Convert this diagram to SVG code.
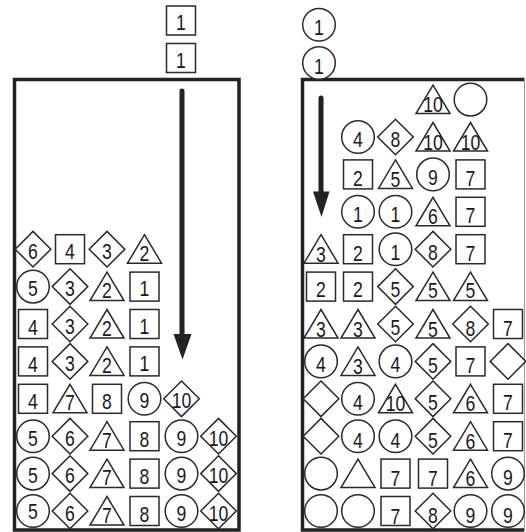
<svg xmlns="http://www.w3.org/2000/svg" xmlns:xlink="http://www.w3.org/1999/xlink" width="526" height="532" viewBox="0 0 526 532">
<style>
.s{fill:#fff;stroke:#2a2a2a;stroke-width:1.5}
text{font-family:"Liberation Sans",Arial,sans-serif;font-size:22px;fill:#1a1a1a;text-anchor:middle;transform:translate(0px,1.5px) scale(0.8,1)}
.box{fill:none;stroke:#222;stroke-width:3.5}
</style>
<defs>
<rect id="sq" class="s" x="-14.5" y="-14.5" width="29" height="29"/>
<circle id="ci" class="s" r="16.3"/>
<polygon id="di" class="s" points="0,-17.8 17.8,0 0,17.8 -17.8,0"/>
<polygon id="tr" class="s" points="0,-14.5 17,14 -17,14"/>
</defs>
<rect width="526" height="532" fill="#fff"/>
<g id="containers">
<path class="box" d="M14.5,79.5 H239 V530 H14.5 Z"/>
<path class="box" d="M524,79.5 H302.5 V530 H524"/>
<line x1="524.5" y1="78" x2="524.5" y2="531" stroke="#999" stroke-width="1"/>
</g>
<g id="connectors">
<path d="M182,91 V336" stroke="#222" stroke-width="5" stroke-linecap="round" fill="none"/>
<polygon points="173.5,334 191.5,334 182.5,359.5" fill="#222"/>
<path d="M321,98 V193" stroke="#222" stroke-width="5" stroke-linecap="round" fill="none"/>
<polygon points="313,191.5 329.5,191.5 321.5,217" fill="#222"/>
</g>
<g id="incoming">
<g id="inL1" transform="translate(181,20.5)"><use href="#sq"/><text y="8">1</text></g>
<g id="inL2" transform="translate(181,58)"><use href="#sq"/><text y="8">1</text></g>
<g id="inR1" transform="translate(319,24.7)"><use href="#ci"/><text y="9">1</text></g>
<g id="inR2" transform="translate(319,63)"><use href="#ci"/><text y="9">1</text></g>
</g>
<g id="left">
<g id="L4-1" transform="translate(33,249.2)"><use href="#di"/><text y="8">6</text></g>
<g id="L4-2" transform="translate(70,249.2)"><use href="#sq"/><text y="8">4</text></g>
<g id="L4-3" transform="translate(107,249.2)"><use href="#di"/><text y="8">3</text></g>
<g id="L4-4" transform="translate(144.5,249.2)"><use href="#tr"/><text y="10">2</text></g>
<g id="L5-1" transform="translate(33,286.6)"><use href="#ci"/><text y="8">5</text></g>
<g id="L5-2" transform="translate(70,286.6)"><use href="#di"/><text y="8">3</text></g>
<g id="L5-3" transform="translate(107,286.6)"><use href="#tr"/><text y="10">2</text></g>
<g id="L5-4" transform="translate(144.5,286.6)"><use href="#sq"/><text y="8">1</text></g>
<g id="L6-1" transform="translate(33,324)"><use href="#sq"/><text y="9">4</text></g>
<g id="L6-2" transform="translate(70,324)"><use href="#di"/><text y="8">3</text></g>
<g id="L6-3" transform="translate(107,324)"><use href="#tr"/><text y="10">2</text></g>
<g id="L6-4" transform="translate(144.5,324)"><use href="#sq"/><text y="8">1</text></g>
<g id="L7-1" transform="translate(33,361.4)"><use href="#sq"/><text y="9">4</text></g>
<g id="L7-2" transform="translate(70,361.4)"><use href="#di"/><text y="8">3</text></g>
<g id="L7-3" transform="translate(107,361.4)"><use href="#tr"/><text y="10">2</text></g>
<g id="L7-4" transform="translate(144.5,361.4)"><use href="#sq"/><text y="8">1</text></g>
<g id="L8-1" transform="translate(33,398.8)"><use href="#sq"/><text y="9">4</text></g>
<g id="L8-2" transform="translate(70,398.8)"><use href="#tr"/><text y="10">7</text></g>
<g id="L8-3" transform="translate(107,398.8)"><use href="#sq"/><text y="9">8</text></g>
<g id="L8-4" transform="translate(144.5,398.8)"><use href="#ci"/><text y="8">9</text></g>
<g id="L8-5" transform="translate(181.5,398.8)"><use href="#di"/><text y="8">10</text></g>
<g id="L9-1" transform="translate(33,436.2)"><use href="#ci"/><text y="8">5</text></g>
<g id="L9-2" transform="translate(70,436.2)"><use href="#di"/><text y="8">6</text></g>
<g id="L9-3" transform="translate(107,436.2)"><use href="#tr"/><text y="10">7</text></g>
<g id="L9-4" transform="translate(144.5,436.2)"><use href="#sq"/><text y="9">8</text></g>
<g id="L9-5" transform="translate(181.5,436.2)"><use href="#ci"/><text y="8">9</text></g>
<g id="L9-6" transform="translate(218.5,436.2)"><use href="#di"/><text y="8">10</text></g>
<g id="L10-1" transform="translate(33,473.6)"><use href="#ci"/><text y="8">5</text></g>
<g id="L10-2" transform="translate(70,473.6)"><use href="#di"/><text y="8">6</text></g>
<g id="L10-3" transform="translate(107,473.6)"><use href="#tr"/><text y="10">7</text></g>
<g id="L10-4" transform="translate(144.5,473.6)"><use href="#sq"/><text y="9">8</text></g>
<g id="L10-5" transform="translate(181.5,473.6)"><use href="#ci"/><text y="8">9</text></g>
<g id="L10-6" transform="translate(218.5,473.6)"><use href="#di"/><text y="8">10</text></g>
<g id="L11-1" transform="translate(33,511)"><use href="#ci"/><text y="6">5</text></g>
<g id="L11-2" transform="translate(70,511)"><use href="#di"/><text y="8">6</text></g>
<g id="L11-3" transform="translate(107,511)"><use href="#tr"/><text y="10">7</text></g>
<g id="L11-4" transform="translate(144.5,511)"><use href="#sq"/><text y="9">8</text></g>
<g id="L11-5" transform="translate(181.5,511)"><use href="#ci"/><text y="8">9</text></g>
<g id="L11-6" transform="translate(218.5,511)"><use href="#di"/><text y="8">10</text></g>
</g>
<g id="right">
<g id="R0-4" transform="translate(433,99.6)"><use href="#tr"/><text y="11">10</text></g>
<g id="R0-5" transform="translate(470.5,99.6)"><use href="#ci"/></g>
<g id="R1-2" transform="translate(358,137)"><use href="#ci"/><text y="8">4</text></g>
<g id="R1-3" transform="translate(395.5,137)"><use href="#di"/><text y="8">8</text></g>
<g id="R1-4" transform="translate(433,137)"><use href="#tr"/><text y="11">10</text></g>
<g id="R1-5" transform="translate(470.5,137)"><use href="#tr"/><text y="11">10</text></g>
<g id="R2-2" transform="translate(358,174.4)"><use href="#sq"/><text y="10">2</text></g>
<g id="R2-3" transform="translate(395.5,174.4)"><use href="#tr"/><text y="11">5</text></g>
<g id="R2-4" transform="translate(433,174.4)"><use href="#ci"/><text y="9">9</text></g>
<g id="R2-5" transform="translate(470.5,174.4)"><use href="#sq"/><text y="10">7</text></g>
<g id="R3-2" transform="translate(358,211.8)"><use href="#ci"/><text y="9">1</text></g>
<g id="R3-3" transform="translate(395.5,211.8)"><use href="#ci"/><text y="9">1</text></g>
<g id="R3-4" transform="translate(433,211.8)"><use href="#tr"/><text y="11">6</text></g>
<g id="R3-5" transform="translate(470.5,211.8)"><use href="#sq"/><text y="10">7</text></g>
<g id="R4-1" transform="translate(321,249.2)"><use href="#tr"/><text y="11">3</text></g>
<g id="R4-2" transform="translate(358,249.2)"><use href="#sq"/><text y="10">2</text></g>
<g id="R4-3" transform="translate(395.5,249.2)"><use href="#ci"/><text y="9">1</text></g>
<g id="R4-4" transform="translate(433,249.2)"><use href="#di"/><text y="9">8</text></g>
<g id="R4-5" transform="translate(470.5,249.2)"><use href="#sq"/><text y="10">7</text></g>
<g id="R5-1" transform="translate(321,286.6)"><use href="#sq"/><text y="9">2</text></g>
<g id="R5-2" transform="translate(358,286.6)"><use href="#sq"/><text y="9">2</text></g>
<g id="R5-3" transform="translate(395.5,286.6)"><use href="#di"/><text y="9">5</text></g>
<g id="R5-4" transform="translate(433,286.6)"><use href="#tr"/><text y="10">5</text></g>
<g id="R5-5" transform="translate(470.5,286.6)"><use href="#tr"/><text y="10">5</text></g>
<g id="R6-1" transform="translate(321,324)"><use href="#tr"/><text y="11">3</text></g>
<g id="R6-2" transform="translate(358,324)"><use href="#tr"/><text y="11">3</text></g>
<g id="R6-3" transform="translate(395.5,324)"><use href="#di"/><text y="9">5</text></g>
<g id="R6-4" transform="translate(433,324)"><use href="#tr"/><text y="11">5</text></g>
<g id="R6-5" transform="translate(470.5,324)"><use href="#di"/><text y="10">8</text></g>
<g id="R6-6" transform="translate(508,324)"><use href="#sq"/><text y="10">7</text></g>
<g id="R7-1" transform="translate(321,361.4)"><use href="#ci"/><text y="9">4</text></g>
<g id="R7-2" transform="translate(358,361.4)"><use href="#tr"/><text y="11">3</text></g>
<g id="R7-3" transform="translate(395.5,361.4)"><use href="#ci"/><text y="9">4</text></g>
<g id="R7-4" transform="translate(433,361.4)"><use href="#di"/><text y="10">5</text></g>
<g id="R7-5" transform="translate(470.5,361.4)"><use href="#sq"/><text y="10">7</text></g>
<g id="R7-6" transform="translate(508,361.4)"><use href="#di"/></g>
<g id="R8-1" transform="translate(321,398.8)"><use href="#di"/></g>
<g id="R8-2" transform="translate(358,398.8)"><use href="#ci"/><text y="10">4</text></g>
<g id="R8-3" transform="translate(395.5,398.8)"><use href="#tr"/><text y="11">10</text></g>
<g id="R8-4" transform="translate(433,398.8)"><use href="#di"/><text y="10">5</text></g>
<g id="R8-5" transform="translate(470.5,398.8)"><use href="#tr"/><text y="11">6</text></g>
<g id="R8-6" transform="translate(508,398.8)"><use href="#sq"/><text y="10">7</text></g>
<g id="R9-1" transform="translate(321,436.2)"><use href="#di"/></g>
<g id="R9-2" transform="translate(358,436.2)"><use href="#ci"/><text y="10">4</text></g>
<g id="R9-3" transform="translate(395.5,436.2)"><use href="#ci"/><text y="10">4</text></g>
<g id="R9-4" transform="translate(433,436.2)"><use href="#di"/><text y="10">5</text></g>
<g id="R9-5" transform="translate(470.5,436.2)"><use href="#tr"/><text y="11">6</text></g>
<g id="R9-6" transform="translate(508,436.2)"><use href="#sq"/><text y="10">7</text></g>
<g id="R10-1" transform="translate(321,473.6)"><use href="#ci"/></g>
<g id="R10-2" transform="translate(358,473.6)"><use href="#tr"/></g>
<g id="R10-3" transform="translate(395.5,473.6)"><use href="#sq"/><text y="11">7</text></g>
<g id="R10-4" transform="translate(433,473.6)"><use href="#sq"/><text y="11">7</text></g>
<g id="R10-5" transform="translate(470.5,473.6)"><use href="#tr"/><text y="11">6</text></g>
<g id="R10-6" transform="translate(508,473.6)"><use href="#ci"/><text y="10">9</text></g>
<g id="R11-1" transform="translate(321,511)"><use href="#ci"/></g>
<g id="R11-2" transform="translate(358,511)"><use href="#ci"/></g>
<g id="R11-3" transform="translate(395.5,511)"><use href="#sq"/><text y="11">7</text></g>
<g id="R11-4" transform="translate(433,511)"><use href="#di"/><text y="10">8</text></g>
<g id="R11-5" transform="translate(470.5,511)"><use href="#ci"/><text y="10">9</text></g>
<g id="R11-6" transform="translate(508,511)"><use href="#ci"/><text y="10">9</text></g>
</g>
</svg>
